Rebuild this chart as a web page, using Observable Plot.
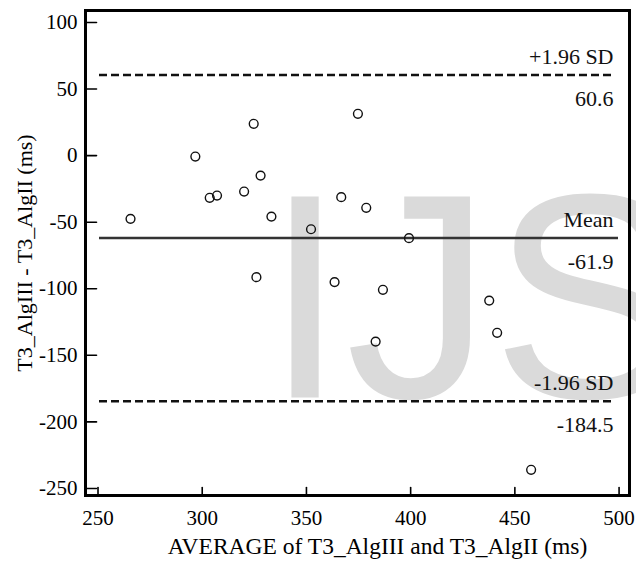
<!DOCTYPE html>
<html>
<head>
<meta charset="utf-8">
<script src="https://cdn.jsdelivr.net/npm/d3@7"></script>
<script src="https://cdn.jsdelivr.net/npm/@observablehq/plot@0.6"></script>
<style>
  body { margin: 0; background: #fff; }
  #chart svg { display: block; background: #fff; }
</style>
</head>
<body>
<div id="chart"></div>
<script>
// Data (Bland–Altman plot)
const avgValues  = [265.6, 296.7, 303.6, 307.1, 320.1, 324.7, 328.0, 333.2, 326.0, 352.2,
                    374.7, 366.7, 378.7, 399.2, 363.5, 386.7, 383.2, 437.7, 441.5, 457.8];
const diffValues = [-47.5, -0.7, -31.7, -30.0, -27.0, 23.9, -15.0, -45.8, -91.3, -55.3,
                    31.4, -31.2, -39.2, -62.0, -95.0, -100.8, -139.7, -108.9, -133.1, -236.0];
const limitLabels = ["+1.96 SD", "Mean", "-1.96 SD"];
const limitValues = [60.6, -61.9, -184.5];
const xTicks = [250, 300, 350, 400, 450, 500];
const yTicks = [100, 50, 0, -50, -100, -150, -200, -250];
const xLabel = "AVERAGE of T3_AlgIII and T3_AlgII (ms)";
const yLabel = "T3_AlgIII - T3_AlgII (ms)";
const watermark = "IJS";

const points = avgValues.map((a, i) => ({avg: a, diff: diffValues[i]}));
const limits = limitLabels.map((l, i) => ({label: l, value: limitValues[i], mean: l === "Mean"}));

const tickShape = {draw(ctx, l) { ctx.moveTo(0, 0); ctx.lineTo(0, -l); }};
const fmt = d => String(d);
const serif = "Liberation Serif";

const chart = Plot.plot({
  width: 636,
  height: 565,
  marginLeft: 85,
  marginRight: 7,
  marginTop: 10,
  marginBottom: 70,
  style: {fontSize: "21px", background: "#fff", color: "#000"},
  x: {domain: [244, 505]},
  y: {domain: [-255.3, 109]},
  marks: [
    Plot.text([watermark], {
      text: d => d, frameAnchor: "bottom-left", textAnchor: "start", lineAnchor: "bottom",
      dx: 179, dy: -98, fontSize: 292, fontFamily: "Liberation Sans",
      fill: "#dadada"
    }),
    Plot.ruleY(limits.filter(d => !d.mean), {
      y: "value", stroke: "#111", strokeWidth: 2.6, strokeDasharray: "8,4",
      insetLeft: 14, insetRight: 15
    }),
    Plot.ruleY(limits.filter(d => d.mean), {
      y: "value", stroke: "#333", strokeWidth: 2.4, insetLeft: 14, insetRight: 11
    }),
    Plot.text(limits, {
      y: "value", text: "label", frameAnchor: "right", textAnchor: "end",
      lineAnchor: "bottom", dx: -16, dy: -11, fontSize: 22, fontFamily: serif, fill: "#111"
    }),
    Plot.text(limits, {
      y: "value", text: d => d.value.toFixed(1), frameAnchor: "right", textAnchor: "end",
      lineAnchor: "top", dx: -16, dy: 15, fontSize: 22, fontFamily: serif, fill: "#111"
    }),
    Plot.dot(points, {
      x: "avg", y: "diff", r: 4.4, stroke: "#111", strokeWidth: 1.4, fill: "none"
    }),
    Plot.axisX({ticks: xTicks, tickFormat: fmt, tickSize: 0, tickPadding: 15, label: null,
      fontSize: 21, fontFamily: serif, fill: "#000"}),
    Plot.axisY({ticks: yTicks, tickFormat: fmt, tickSize: 0, tickPadding: 8, label: null,
      fontSize: 21, fontFamily: serif, fill: "#000"}),
    Plot.vector(xTicks, {x: d => d, frameAnchor: "bottom", rotate: 0, length: 8, anchor: "start",
      shape: tickShape, stroke: "#000", strokeWidth: 1.6}),
    Plot.vector(yTicks, {y: d => d, frameAnchor: "left", rotate: 90, length: 11, anchor: "start",
      shape: tickShape, stroke: "#000", strokeWidth: 1.6}),
    Plot.frame({stroke: "#000", strokeWidth: 3}),
    Plot.text([xLabel], {text: d => d, frameAnchor: "bottom", textAnchor: "middle", dx: 20, dy: 58,
      fontSize: 23.5, fontFamily: serif, fill: "#000"}),
    Plot.text([yLabel], {text: d => d, frameAnchor: "left", textAnchor: "middle", rotate: -90, dx: -61,
      fontSize: 22, fontFamily: serif, fill: "#000"})
  ]
});
document.getElementById("chart").appendChild(chart);
</script>
</body>
</html>
